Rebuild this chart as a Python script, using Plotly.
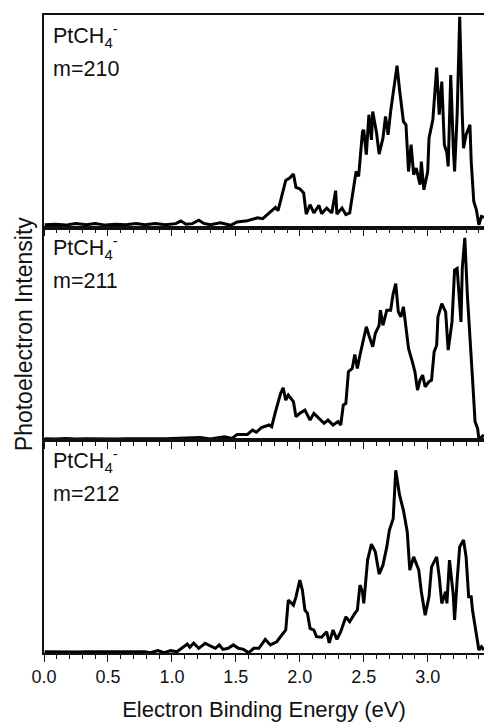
import plotly.graph_objects as go
from plotly.subplots import make_subplots

# ---- data (eV, normalized intensity) ----
e210 = [0.005, 0.09, 0.17, 0.25, 0.33, 0.40, 0.48, 0.56, 0.64, 0.72, 0.79, 0.87, 0.95, 1.03, 1.07, 1.11, 1.16, 1.21, 1.25,
        1.30, 1.38, 1.46, 1.51, 1.59, 1.67, 1.71, 1.77, 1.81, 1.83, 1.86, 1.89, 1.92, 1.95, 1.97, 2.00, 2.03, 2.05, 2.08,
        2.11, 2.15, 2.17, 2.21, 2.25, 2.28, 2.29, 2.33, 2.36, 2.39, 2.41, 2.44, 2.46, 2.49, 2.50, 2.52, 2.54, 2.56, 2.57,
        2.60, 2.62, 2.65, 2.67, 2.69, 2.71, 2.74, 2.76, 2.78, 2.81, 2.83, 2.85, 2.87, 2.89, 2.91, 2.94, 2.95, 2.97, 3.00,
        3.01, 3.04, 3.07, 3.09, 3.11, 3.13, 3.15, 3.16, 3.18, 3.20, 3.21, 3.23, 3.25, 3.27, 3.28, 3.30, 3.33, 3.34, 3.36,
        3.38, 3.40, 3.42, 3.44]
i210 = [0.014, 0.016, 0.012, 0.019, 0.014, 0.019, 0.012, 0.016, 0.014, 0.019, 0.014, 0.019, 0.014, 0.019, 0.031, 0.016, 0.019, 0.035, 0.020,
        0.014, 0.023, 0.011, 0.027, 0.033, 0.046, 0.042, 0.074, 0.095, 0.080, 0.147, 0.222, 0.233, 0.252, 0.189, 0.183, 0.163, 0.064, 0.108,
        0.069, 0.105, 0.066, 0.092, 0.069, 0.174, 0.064, 0.092, 0.061, 0.069, 0.142, 0.264, 0.241, 0.452, 0.460, 0.343, 0.531, 0.413, 0.546,
        0.445, 0.346, 0.421, 0.523, 0.437, 0.546, 0.671, 0.762, 0.648, 0.499, 0.484, 0.264, 0.390, 0.249, 0.280, 0.202, 0.311, 0.178, 0.264,
        0.421, 0.507, 0.753, 0.531, 0.687, 0.390, 0.351, 0.288, 0.718, 0.374, 0.264, 0.531, 0.992, 0.531, 0.374, 0.437, 0.484, 0.311, 0.123,
        0.085, 0.014, 0.053, 0.048]

e211 = [0.005, 0.09, 0.17, 0.25, 0.33, 0.40, 0.48, 0.56, 0.64, 0.72, 0.79, 0.87, 0.95, 1.03, 1.11, 1.16, 1.22, 1.30, 1.41, 1.47,
        1.51, 1.59, 1.63, 1.66, 1.70, 1.76, 1.78, 1.81, 1.85, 1.87, 1.89, 1.91, 1.95, 1.97, 2.00, 2.04, 2.08, 2.11, 2.15,
        2.19, 2.22, 2.26, 2.30, 2.32, 2.34, 2.36, 2.38, 2.41, 2.43, 2.45, 2.47, 2.50, 2.52, 2.54, 2.57, 2.59, 2.62, 2.63,
        2.65, 2.68, 2.71, 2.73, 2.75, 2.77, 2.79, 2.81, 2.83, 2.85, 2.88, 2.90, 2.92, 2.94, 2.96, 2.98, 3.01, 3.03, 3.05,
        3.07, 3.08, 3.11, 3.14, 3.16, 3.19, 3.21, 3.23, 3.25, 3.26, 3.27, 3.29, 3.31, 3.33, 3.35, 3.37, 3.39, 3.40, 3.42, 3.44]
i211 = [0.008, 0.006, 0.009, 0.006, 0.008, 0.007, 0.009, 0.006, 0.008, 0.007, 0.009, 0.007, 0.008, 0.010, 0.009, 0.012, 0.013, 0.006, 0.017, 0.009,
        0.028, 0.028, 0.048, 0.038, 0.060, 0.072, 0.064, 0.135, 0.221, 0.247, 0.189, 0.213, 0.182, 0.111, 0.127, 0.142, 0.095, 0.127, 0.103,
        0.080, 0.095, 0.072, 0.088, 0.072, 0.166, 0.174, 0.323, 0.338, 0.404, 0.338, 0.400, 0.479, 0.534, 0.494, 0.440, 0.502, 0.541, 0.612,
        0.541, 0.612, 0.612, 0.690, 0.737, 0.604, 0.581, 0.628, 0.541, 0.432, 0.369, 0.322, 0.236, 0.283, 0.307, 0.252, 0.276, 0.283, 0.416,
        0.447, 0.581, 0.643, 0.604, 0.424, 0.557, 0.800, 0.808, 0.659, 0.557, 0.808, 0.952, 0.682, 0.510, 0.291, 0.088, 0.056, 0.006, 0.017, 0.025]

e212 = [0.005, 0.09, 0.17, 0.25, 0.33, 0.40, 0.48, 0.56, 0.64, 0.72, 0.79, 0.83, 0.89, 0.94, 0.99, 1.04, 1.09, 1.12, 1.14, 1.17,
        1.21, 1.26, 1.30, 1.34, 1.37, 1.40, 1.44, 1.48, 1.52, 1.56, 1.60, 1.64, 1.68, 1.73, 1.77, 1.82, 1.86, 1.89, 1.91,
        1.95, 1.97, 2.00, 2.02, 2.04, 2.06, 2.08, 2.11, 2.13, 2.17, 2.21, 2.23, 2.26, 2.29, 2.32, 2.36, 2.39, 2.43, 2.45,
        2.47, 2.49, 2.50, 2.53, 2.56, 2.59, 2.62, 2.65, 2.68, 2.70, 2.73, 2.75, 2.78, 2.81, 2.84, 2.86, 2.89, 2.93, 2.95,
        2.98, 3.01, 3.03, 3.07, 3.09, 3.11, 3.14, 3.15, 3.17, 3.20, 3.21, 3.23, 3.25, 3.28, 3.30, 3.32, 3.34, 3.35, 3.38,
        3.40, 3.42, 3.44]
i212 = [0.006, 0.005, 0.007, 0.005, 0.006, 0.007, 0.005, 0.006, 0.006, 0.005, 0.006, 0.001, 0.011, 0.001, 0.011, 0.006, 0.030, 0.042, 0.027, 0.046,
        0.022, 0.046, 0.033, 0.022, 0.038, 0.017, 0.022, 0.038, 0.022, 0.017, 0.001, 0.022, 0.022, 0.064, 0.038, 0.053, 0.085, 0.108, 0.249,
        0.225, 0.264, 0.343, 0.296, 0.202, 0.186, 0.116, 0.108, 0.077, 0.074, 0.100, 0.048, 0.108, 0.064, 0.100, 0.170, 0.147, 0.186, 0.202,
        0.319, 0.288, 0.233, 0.437, 0.512, 0.476, 0.371, 0.413, 0.499, 0.577, 0.632, 0.859, 0.742, 0.671, 0.569, 0.390, 0.452, 0.390, 0.288,
        0.178, 0.264, 0.405, 0.452, 0.358, 0.233, 0.288, 0.233, 0.437, 0.272, 0.155, 0.343, 0.499, 0.531, 0.452, 0.264, 0.264, 0.202, 0.100,
        0.014, 0.030, 0.014]

species = "PtCH<sub>4</sub><sup>-</sup>"
masses = ["m=210", "m=211", "m=212"]
tick_vals = [0.0, 0.5, 1.0, 1.5, 2.0, 2.5, 3.0]
tick_text = ["0.0", "0.5", "1.0", "1.5", "2.0", "2.5", "3.0"]

FONT = "Liberation Sans, Arial, sans-serif"

fig = make_subplots(rows=3, cols=1, shared_xaxes=True, vertical_spacing=0)
for r, (xs, ys) in enumerate([(e210, i210), (e211, i211), (e212, i212)], start=1):
    fig.add_trace(go.Scatter(x=xs, y=ys, mode="lines",
                             line=dict(color="black", width=3), showlegend=False),
                  row=r, col=1)

for r in range(1, 4):
    fig.update_xaxes(row=r, col=1, range=[0, 3.44], showline=True, linecolor="#111", linewidth=1.6,
                     mirror=True, ticks="outside", ticklen=7, tickwidth=1.4, tickcolor="#111",
                     tickvals=tick_vals, ticktext=tick_text, showgrid=False, zeroline=False,
                     minor=dict(ticks="outside", ticklen=4, tickwidth=1.4, tickcolor="#111", dtick=0.1, showgrid=False),
                     showticklabels=(r == 3),
                     tickfont=dict(family=FONT, size=18, color="#111"))
    fig.update_yaxes(row=r, col=1, range=[0, 1], showline=True, linecolor="#111", linewidth=1.6,
                     ticks="", showticklabels=False, showgrid=False, zeroline=False)

fig.update_xaxes(row=3, col=1, title=dict(text="Electron Binding Energy (eV)",
                                          font=dict(family=FONT, size=22, color="#111"), standoff=15))

annots = []
for r in range(3):
    yd = "y domain" if r == 0 else f"y{r+1} domain"
    xd = "x domain" if r == 0 else f"x{r+1} domain"
    annots.append(dict(text=species, xref=xd, yref=yd, x=0.016, y=0.905, xanchor="left", yanchor="middle",
                       showarrow=False, font=dict(family=FONT, size=21.5, color="#111")))
    annots.append(dict(text=masses[r], xref=xd, yref=yd, x=0.016, y=0.748, xanchor="left", yanchor="middle",
                       showarrow=False, font=dict(family=FONT, size=21.5, color="#111")))
annots.append(dict(text="Photoelectron Intensity", xref="paper", yref="paper", x=-0.045, y=0.5,
                   xanchor="center", yanchor="middle", textangle=-90, showarrow=False,
                   font=dict(family=FONT, size=23, color="#111")))

fig.update_layout(width=484, height=727, margin=dict(l=44, r=0, t=15, b=74),
                  paper_bgcolor="white", plot_bgcolor="white", annotations=annots,
                  font=dict(family=FONT, color="#111"))

fig.write_html("out.html", config={"displayModeBar": False},
               post_script="document.body.style.margin='0';document.body.style.overflow='hidden';")
